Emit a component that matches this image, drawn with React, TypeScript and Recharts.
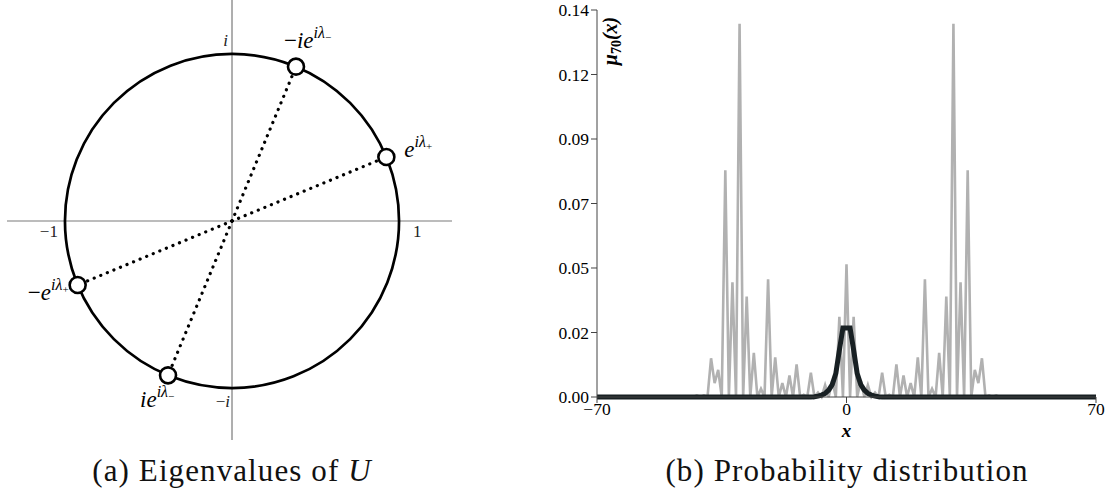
import React from 'react';
import { ScatterChart, Scatter, LineChart, Line, XAxis, YAxis, ReferenceLine, ReferenceDot } from 'recharts';

// ---------- (a) eigenvalues of U on the unit circle ----------
const eigRe = [0.924, 0.383, -0.924, -0.383];
const eigIm = [0.383, 0.924, -0.383, -0.924];
const eigBase = ['e', '−ie', '−e', 'ie'];
const eigSign = ['+', '−', '+', '−'];

const axisRe = [1, -1, 0, 0];
const axisIm = [0, 0, 1, -1];
const axisText = ['1', '−1', 'i', '−i'];

// label placement next to each marker, in px (layout only)
const eigLabelPos: [number, number, string][] = [[18, 0, 'start'], [-12, -19, 'start'], [-9, 15, 'end'], [-28, 32, 'start']];
const axisLabelPos: [number, number, string][] = [[14, 16, 'start'], [-7, 16, 'end'], [-4, -8, 'end'], [-2, 19, 'end']];

// ---------- (b) probability distribution mu_70(x) ----------
const grayX = [-70, ...Array.from({ length: 89 }, (_, k) => k - 44), 70];
const grayMu = [
  0,
  0, 0, 0.0006, 0, 0.0006, 0, 0.014, 0.005, 0.0098, 0, 0.082, 0, 0.0415, 0, 0.135, 0, 0.0363, 0, 0.016, 0, 0.003, 0,
  0.0426, 0, 0.0143, 0, 0.005, 0, 0.0078, 0, 0.0118, 0, 0.0008, 0, 0.0088, 0, 0.0016, 0, 0.0043, 0, 0.006, 0, 0.029, 0,
  0.048,
  0, 0.029, 0, 0.006, 0, 0.0043, 0, 0.0016, 0, 0.0088, 0, 0.0008, 0, 0.0118, 0, 0.0078, 0, 0.005, 0, 0.0143, 0, 0.0426,
  0, 0.003, 0, 0.016, 0, 0.0363, 0, 0.135, 0, 0.0415, 0, 0.082, 0, 0.0098, 0.005, 0.014, 0, 0.0006, 0, 0.0006, 0, 0,
  0,
];
const blackX = [-70, -10, -9, -8, -7, -6, -5, -4, -3, -2, -1, 0, 1, 2, 3, 4, 5, 6, 7, 8, 9, 10, 70];
const blackMu = [0, 0, 0.0001, 0.0003, 0.0007, 0.0013, 0.0025, 0.0045, 0.0085, 0.017, 0.025, 0.025, 0.025, 0.017, 0.0085, 0.0045, 0.0025, 0.0013, 0.0007, 0.0003, 0.0001, 0, 0];

const xTicks = [-70, 0, 70];
const xTickLabels = ['−70', '0', '70'];
const yTicks = [0, 0.02333, 0.04667, 0.07, 0.09333, 0.11667, 0.14];
const yTickLabels = ['0.00', '0.02', '0.05', '0.07', '0.09', '0.12', '0.14'];

const SERIF = 'Liberation Serif, DejaVu Serif, Times New Roman, serif';

const A_W = 460;
const A_H = 450;
const A_MARGIN = { top: 0, right: 8, bottom: 10, left: 7 };
const RE_DOMAIN: [number, number] = [-1.347, 1.317];
const IM_DOMAIN: [number, number] = [-1.311, 1.323];
const UNIT_PX = (A_W - A_MARGIN.left - A_MARGIN.right) / (RE_DOMAIN[1] - RE_DOMAIN[0]);

const eigData = eigRe.map((re, i) => ({ re, im: eigIm[i], i }));
const axisData = axisRe.map((re, i) => ({ re, im: axisIm[i], i }));
const grayData = grayX.map((x, i) => ({ x, mu: grayMu[i] }));
const blackData = blackX.map((x, i) => ({ x, mu: blackMu[i] }));

const MathLabel = ({ x, y, base, sign, anchor }: any) => {
  const neg = base.startsWith('−');
  return (
    <text x={x} y={y} textAnchor={anchor} style={{ fontFamily: SERIF }} fontSize={23} fill="#000">
      {neg && <tspan>−</tspan>}
      <tspan fontStyle="italic">{neg ? base.slice(1) : base}</tspan>
      <tspan dy={-10} fontSize={16} fontStyle="italic">iλ</tspan>
      <tspan dy={3} fontSize={11}>{sign}</tspan>
    </text>
  );
};

const EigMarker = (props: any) => {
  const { cx, cy, payload } = props;
  const i = payload.i;
  const [dx, dy, anchor] = eigLabelPos[i];
  return (
    <g>
      <circle cx={cx} cy={cy} r={8} fill="#fff" stroke="#000" strokeWidth={2.6} />
      <MathLabel x={cx + dx} y={cy + dy} base={eigBase[i]} sign={eigSign[i]} anchor={anchor} />
    </g>
  );
};

const AxisMark = (props: any) => {
  const { cx, cy, payload } = props;
  const i = payload.i;
  const [dx, dy, anchor] = axisLabelPos[i];
  const txt = axisText[i];
  const neg = txt.startsWith('−');
  const body = neg ? txt.slice(1) : txt;
  return (
    <text x={cx + dx} y={cy + dy} textAnchor={anchor} style={{ fontFamily: SERIF }} fontSize={17} fill="#222">
      {neg && <tspan>−</tspan>}
      <tspan fontStyle={body === 'i' ? 'italic' : 'normal'}>{body}</tspan>
    </text>
  );
};

const YLabel = ({ viewBox }: any) => {
  const x = viewBox.x + viewBox.width + 20;
  return (
    <text transform={`translate(${x},41) rotate(-90)`} textAnchor="middle" style={{ fontFamily: SERIF }} fontWeight="bold" fontStyle="italic" fontSize={20} fill="#000">
      <tspan>μ</tspan>
      <tspan dy={4} fontSize={14} fontStyle="normal">70</tspan>
      <tspan dy={-4}>(x)</tspan>
    </text>
  );
};

const XLabel = ({ viewBox }: any) => (
  <text x={viewBox.x + viewBox.width / 2} y={viewBox.y + 40} textAnchor="middle" style={{ fontFamily: SERIF }} fontWeight="bold" fontStyle="italic" fontSize={19} fill="#000">
    x
  </text>
);

const caption: React.CSSProperties = {
  position: 'absolute', top: 455, fontFamily: SERIF, fontSize: 31, lineHeight: '31px',
  letterSpacing: 1.1, color: '#111', textAlign: 'center', whiteSpace: 'nowrap',
};

const tickStyle = { fill: '#000', fontSize: 17.5, style: { fontFamily: SERIF } };

export default function App() {
  return (
    <div style={{ position: 'absolute', left: 0, top: 0, width: 1114, height: 497, background: '#fff', overflow: 'hidden', fontFamily: SERIF }}>
      <div style={{ position: 'absolute', left: 0, top: 0 }}>
        <ScatterChart width={A_W} height={A_H} margin={A_MARGIN}>
          <XAxis type="number" dataKey="re" domain={RE_DOMAIN} allowDataOverflow hide />
          <YAxis type="number" dataKey="im" domain={IM_DOMAIN} allowDataOverflow hide />
          <ReferenceLine x={0} stroke="#7a7a7a" strokeWidth={1.2} />
          <ReferenceLine y={0} stroke="#7a7a7a" strokeWidth={1.2} />
          <ReferenceDot x={0} y={0} r={UNIT_PX} fill="none" stroke="#000" strokeWidth={2.7} />
          {eigData.map((p) => (
            <ReferenceLine
              key={p.i}
              segment={[{ x: 0, y: 0 }, { x: p.re, y: p.im }]}
              stroke="#000"
              strokeWidth={3.2}
              strokeDasharray="0.1 7"
              strokeLinecap="round"
            />
          ))}
          <Scatter data={axisData} shape={<AxisMark />} isAnimationActive={false} />
          <Scatter data={eigData} shape={<EigMarker />} isAnimationActive={false} />
        </ScatterChart>
      </div>
      <div style={{ ...caption, left: 0, width: 464 }}>
        (a) Eigenvalues of <i>U</i>
      </div>

      <div style={{ position: 'absolute', left: 520, top: 0 }}>
        <LineChart width={594} height={452} margin={{ top: 10, right: 18, left: 0, bottom: 0 }}>
          <XAxis
            type="number"
            dataKey="x"
            domain={[-70, 70]}
            ticks={xTicks}
            interval={0}
            tickFormatter={(v: number) => xTickLabels[xTicks.indexOf(v)]}
            height={55}
            tickSize={6}
            tickMargin={0}
            tick={tickStyle}
            axisLine={{ stroke: '#444' }}
            tickLine={{ stroke: '#444' }}
            label={<XLabel />}
          />
          <YAxis
            type="number"
            domain={[0, 0.14]}
            ticks={yTicks}
            interval={0}
            tickFormatter={(v: number) => yTickLabels[yTicks.indexOf(v)]}
            width={77}
            tickSize={6}
            tick={tickStyle}
            axisLine={{ stroke: '#444' }}
            tickLine={{ stroke: '#444' }}
            label={<YLabel />}
          />
          <Line data={grayData} dataKey="mu" type="linear" stroke="#b1b1b1" strokeWidth={2.6} dot={false} isAnimationActive={false} />
          <Line data={blackData} dataKey="mu" type="linear" stroke="#182023" strokeWidth={5} dot={false} isAnimationActive={false} />
        </LineChart>
      </div>
      <div style={{ ...caption, left: 600, width: 494 }}>(b) Probability distribution</div>
    </div>
  );
}
